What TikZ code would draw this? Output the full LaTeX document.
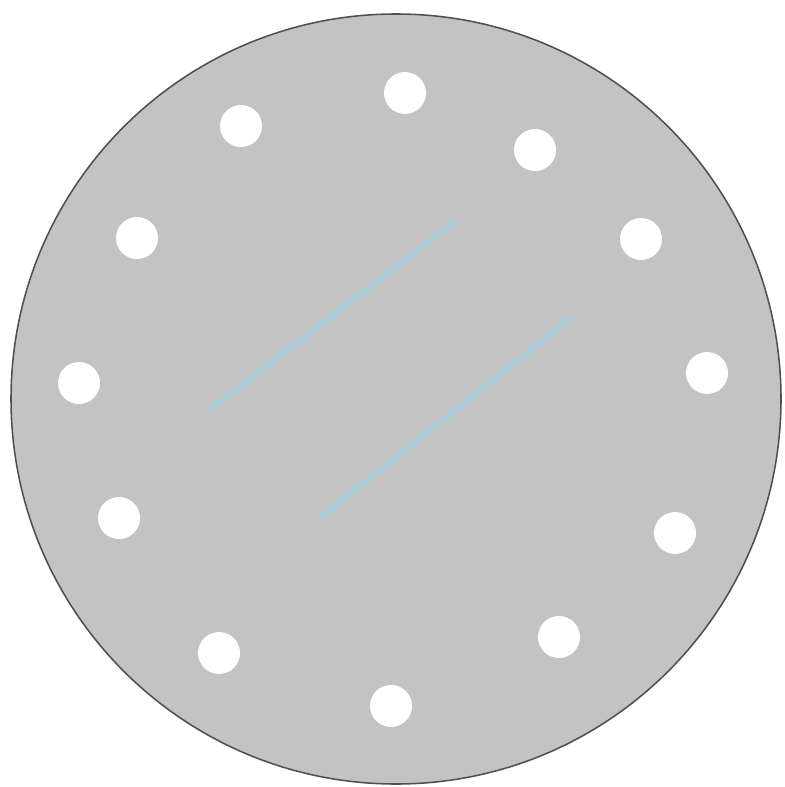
\documentclass[tikz,border=0pt]{standalone}
\usepackage{xcolor}
\usepackage{tikz}
\definecolor{DiscGray}{HTML}{C3C3C3}
\definecolor{DiscEdge}{HTML}{505050}
\definecolor{SlotBlue}{HTML}{ABCBD8}
\begin{document}
\begin{tikzpicture}[x=0.025cm,y=-0.025cm]
\path[use as bounding box] (0,0) rectangle (784,787);
\fill[white] (0,0) rectangle (784,787);
\filldraw[fill=DiscGray,draw=DiscEdge,line width=1.1pt] (396,399) circle (385);
\foreach \hx/\hy in {405/93,535/150,641/239,707/373,675/533,559/637,391/706,219/653,119/518,79/383,137/238,241/126}
  \fill[white] (\hx,\hy) circle (21);
\draw[SlotBlue,line width=0.15cm,line cap=round] (211,408) -- (453,222);
\draw[SlotBlue,line width=0.15cm,line cap=round] (321,516) -- (571,317);
\end{tikzpicture}
\end{document}
